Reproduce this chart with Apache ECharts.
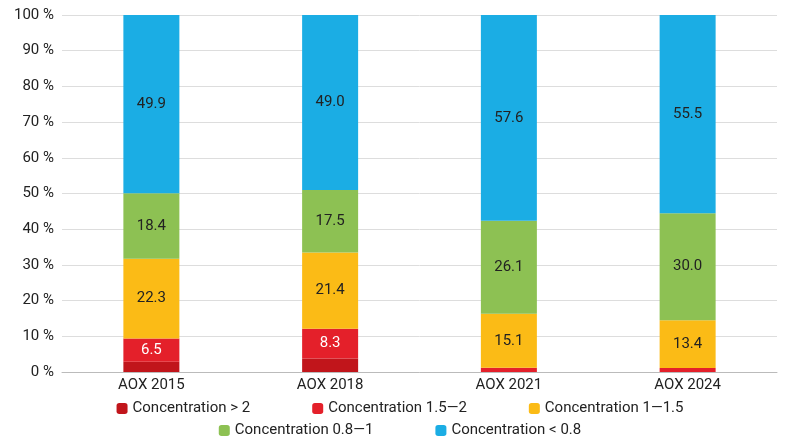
<!DOCTYPE html>
<html>
<head>
<meta charset="UTF-8">
<script src="https://cdn.jsdelivr.net/npm/echarts@6/dist/echarts.min.js"></script>
<style>body{margin:0}</style>
</head>
<body>
<div id="c" style="width:800px;height:447px;"></div>
<script>
var categories = ['AOX 2015', 'AOX 2018', 'AOX 2021', 'AOX 2024'];
var seriesNames = ['Concentration > 2', 'Concentration 1.5\u20142', 'Concentration 1\u20141.5', 'Concentration 0.8\u20141', 'Concentration < 0.8'];
var over2 = [2.9, 3.8, 0, 0];
var c15to2 = [6.5, 8.3, 1.2, 1.1];
var c1to15 = [22.3, 21.4, 15.1, 13.4];
var c08to1 = [18.4, 17.5, 26.1, 30.0];
var under08 = [49.9, 49.0, 57.6, 55.5];
var colors = ['#c1151b', '#e4202a', '#fbbb16', '#8dc153', '#1badE4'];

var data = [over2, c15to2, c1to15, c08to1, under08];
var chart = echarts.init(document.getElementById('c'));
chart.setOption({
    animation: false,
    grid: {left: 62, right: 23, top: 15, bottom: 75},
    legend: [
        {data: seriesNames.slice(0, 3), bottom: 26, left: 'center', itemGap: 62, itemWidth: 11, itemHeight: 11,
         textStyle: {fontSize: 15, color: '#222', fontFamily: 'Roboto'}},
        {data: seriesNames.slice(3), bottom: 4, left: 'center', itemGap: 62, itemWidth: 11, itemHeight: 11,
         textStyle: {fontSize: 15, color: '#222', fontFamily: 'Roboto'}}
    ],
    xAxis: {type: 'category', data: categories,
        axisLine: {lineStyle: {color: '#bbb'}}, axisTick: {show: false},
        axisLabel: {fontSize: 15, color: '#222', fontFamily: 'Roboto', margin: 6}},
    yAxis: {type: 'value', min: 0, max: 100, interval: 10,
        axisLabel: {formatter: '{value} %', fontSize: 15, color: '#222', fontFamily: 'Roboto'},
        splitLine: {lineStyle: {color: '#ddd'}}},
    series: data.map(function (d, i) {
        return {
            name: seriesNames[i], type: 'bar', stack: 'a', data: d, barWidth: 56,
            itemStyle: {color: colors[i]},
            label: {show: true, color: i === 1 ? '#fff' : '#222', fontSize: 15, fontFamily: 'Roboto',
                formatter: function (p) { return p.value >= 5 ? p.value.toFixed(1) : ''; }}
        };
    })
});
</script>
</body>
</html>
